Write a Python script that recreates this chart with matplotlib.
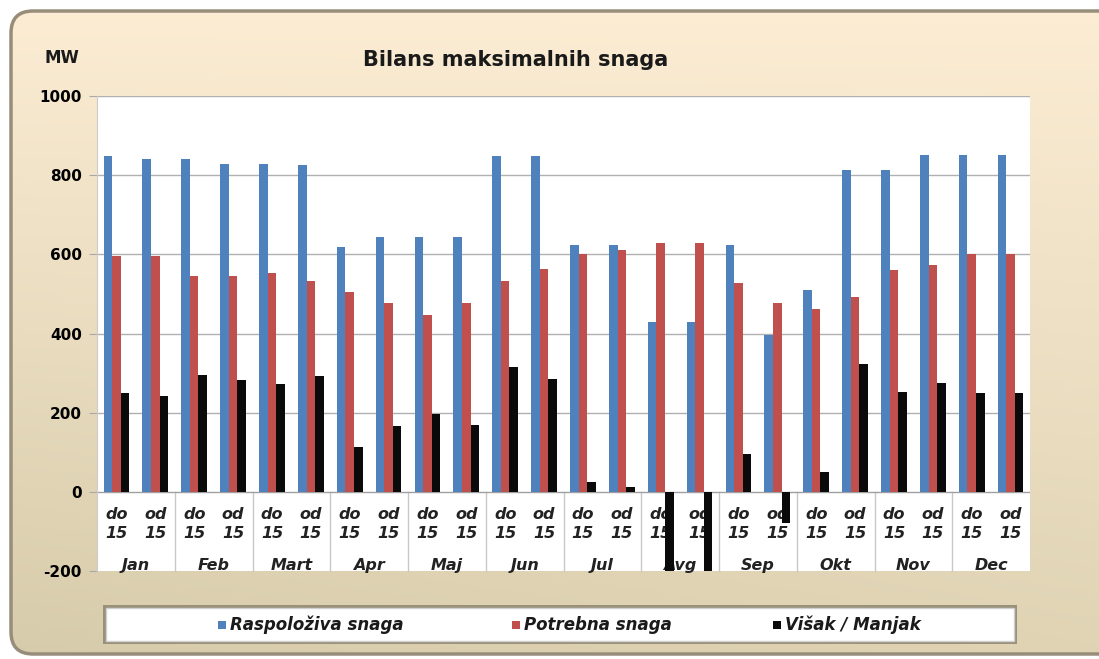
import numpy as np
import matplotlib
matplotlib.use("Agg")
import matplotlib.pyplot as plt
from matplotlib.patches import FancyBboxPatch, Rectangle

plt.rcParams["font.family"] = ["DejaVu Sans"]

# podaci (MW), po polovinama meseca
months = ["Jan", "Feb", "Mart", "Apr", "Maj", "Jun", "Jul", "Avg", "Sep", "Okt", "Nov", "Dec"]
halves = ["do", "od"]
raspoloziva = [849, 840, 840, 829, 829, 825, 619, 645, 645, 645, 849, 849,
               623, 623, 429, 429, 623, 397, 510, 813, 813, 851, 851, 851]
potrebna = [597, 597, 545, 545, 554, 532, 505, 478, 447, 476, 532, 564,
            600, 611, 628, 628, 528, 478, 462, 491, 560, 574, 600, 600]
visak = [250, 243, 295, 282, 273, 292, 113, 167, 196, 169, 316, 285,
         24, 12, -199, -199, 96, -79, 49, 324, 253, 275, 250, 250]

blue = "#4F81BD"
red = "#C0504D"
black = "#0a0a0a"

W, H = 1099, 659
fig = plt.figure(figsize=(W / 100, H / 100), dpi=100)
fig.patch.set_facecolor("white")

# pozadina - zaobljeni okvir sa gradijentom
bg = fig.add_axes([0, 0, 1, 1])
bg.set_xlim(0, W)
bg.set_ylim(H, 0)
bg.axis("off")
frame = FancyBboxPatch((11, 11), W + 20, H - 16, boxstyle="round,pad=0,rounding_size=22",
                       facecolor="none", edgecolor="#978d7a", linewidth=2.5, zorder=2)
bg.add_patch(frame)
yy, xx = np.mgrid[0:1:200j, 0:1:200j]
t = np.clip(0.75 * yy + 0.25 * (1 - xx) * yy, 0, 1)
top = np.array([252, 237, 212]) / 255
bot = np.array([214, 203, 170]) / 255
grad = top[None, None, :] * (1 - t[..., None]) + bot[None, None, :] * t[..., None]
im = bg.imshow(grad, extent=[0, W, H, 0], aspect="auto", zorder=1)
im.set_clip_path(frame)

# glavni grafikon
ax = fig.add_axes([97 / W, 1 - 571 / H, 933 / W, 475 / H])
ax.set_facecolor("white")
x = np.arange(len(raspoloziva))
bw = 0.22
ax.bar(x - bw, raspoloziva, bw, color=blue, zorder=3)
ax.bar(x, potrebna, bw, color=red, zorder=3)
ax.bar(x + bw, visak, bw, color=black, zorder=3)

ax.set_xlim(-0.5, len(x) - 0.5)
ax.set_ylim(-200, 1000)
ax.set_yticks(range(-200, 1001, 200))
ax.set_yticklabels([str(v) for v in range(-200, 1001, 200)], fontsize=11, fontweight="bold")
ax.tick_params(axis="y", length=6, color="#a8a8a8", pad=5)
ax.set_xticks([])
for v in range(200, 1001, 200):
    ax.axhline(v, color="#b0b0b0", linewidth=1, zorder=1)
ax.axhline(0, color="#a0a0a0", linewidth=1, zorder=2)
for s in ["top", "right", "bottom"]:
    ax.spines[s].set_visible(False)
ax.spines["left"].set_color("#cccccc")

# kategorije ispod nule
lab_kw = dict(ha="center", va="center", fontsize=11.5, fontstyle="italic",
              fontweight="bold", color="#222222", zorder=2)
for i in range(len(x)):
    ax.text(i, -58, halves[i % 2], **lab_kw)
    ax.text(i, -104, "15", **lab_kw)
for m, name in enumerate(months):
    ax.text(2 * m + 0.5, -186, name, **lab_kw)
for b in np.arange(1.5, len(x) - 1, 2):
    ax.plot([b, b], [0, -200], color="#c8c8c8", linewidth=1, zorder=1, clip_on=False)

# naslov i jedinica
fig.text(516 / W, 1 - 60 / H, "Bilans maksimalnih snaga", ha="center", va="center",
         fontsize=15, fontweight="bold", color="#1a1a1a")
fig.text(62 / W, 1 - 58 / H, "MW", ha="center", va="center",
         fontsize=12, fontweight="bold", color="#1a1a1a")

# legenda
shadow = FancyBboxPatch((103, 605), 914, 39, boxstyle="square,pad=0",
                        facecolor="#9a917b", edgecolor="none", zorder=3)
bg.add_patch(shadow)
lbox = FancyBboxPatch((106, 608), 908, 33, boxstyle="square,pad=0",
                      facecolor="white", edgecolor="#d0d0d0", linewidth=1, zorder=4)
bg.add_patch(lbox)
entries = [(218, blue, "Raspoloživa snaga"), (512, red, "Potrebna snaga"),
           (773, black, "Višak / Manjak")]
for lx, c, lab in entries:
    bg.add_patch(Rectangle((lx, 621), 8, 8, facecolor=c, edgecolor="none", zorder=5))
    bg.text(lx + 12, 625, lab, ha="left", va="center", fontsize=12,
            fontstyle="italic", fontweight="bold", color="#1a1a1a", zorder=5)

fig.savefig("out.png", dpi=100)
